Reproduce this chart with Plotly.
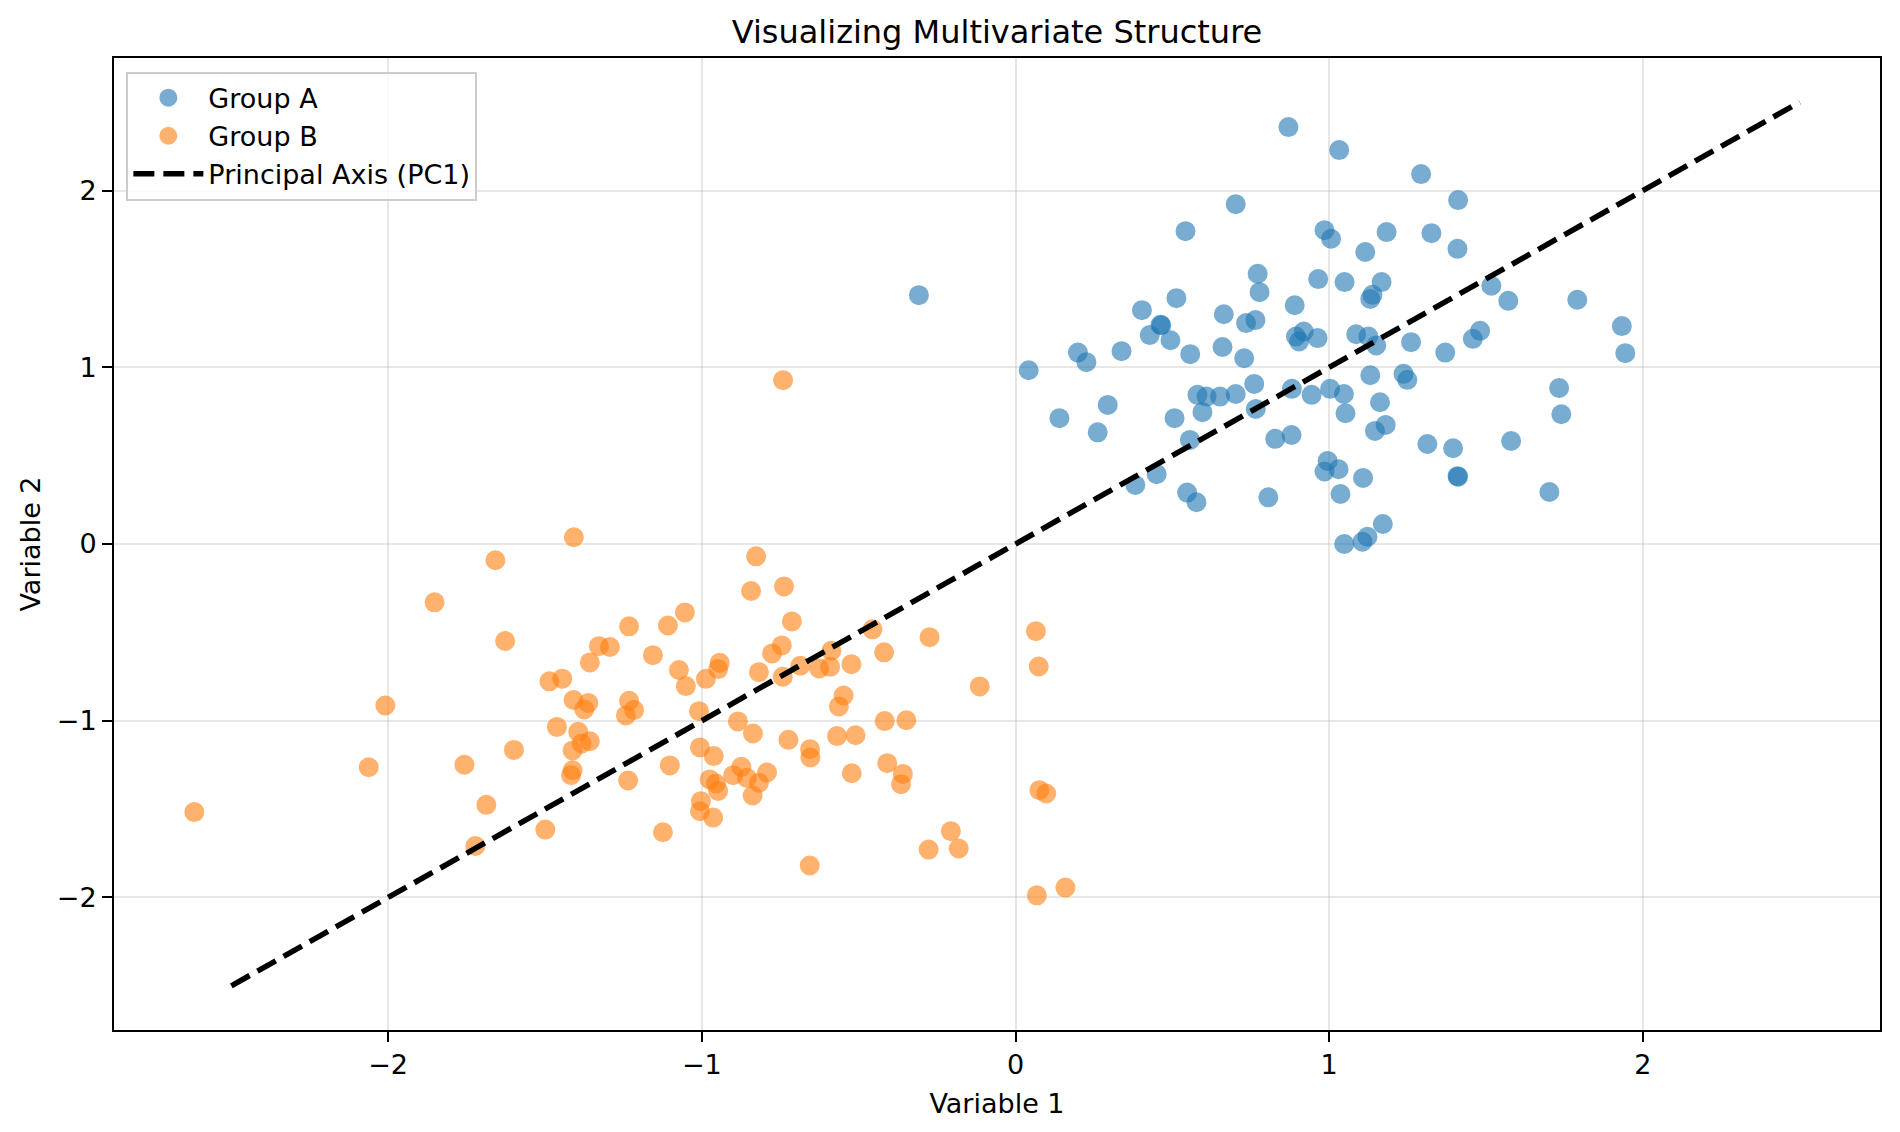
import plotly.graph_objects as go

# Group A (blue cluster)
group_a_x = [
    0.870, 1.032, 1.293, 1.411, 0.702, 0.542, 0.985, 1.006, 1.183, 1.326,
    1.409, 1.115, 0.772, 0.778, 0.965, 1.049, 1.167, 1.138, 1.131, 1.517,
    1.571, 1.791, 0.403, 0.513, 0.465, 0.462, 0.428, 0.494, 0.338, 0.557,
    0.664, 0.735, 0.765, 0.660, 0.729, 0.890, 0.919, 0.894, 0.904, 0.963,
    1.086, 1.125, 1.150, 1.261, 1.370, 1.458, 1.481, 1.933, 1.944, 0.199,
    0.226, 0.042, 0.294, 0.140, 0.262, 0.507, 0.580, 0.609, 0.652, 0.702,
    0.761, 0.596, 0.766, 0.556, 0.881, 0.944, 1.003, 1.047, 1.052, 1.162,
    1.131, 1.237, 1.249, 1.146, 1.180, 0.828, 0.880, 1.313, 1.395, 1.733,
    1.740, 1.580, 1.411, 1.409, 1.702, 0.382, 0.450, 0.547, 0.577, 0.806,
    0.995, 0.985, 1.030, 1.108, 1.036, 1.171, 1.122, 1.106, 1.048, -0.308,
]
group_a_y = [
    2.359, 2.229, 2.093, 1.946, 1.923, 1.770, 1.776, 1.727, 1.765, 1.759,
    1.670, 1.652, 1.529, 1.425, 1.499, 1.482, 1.482, 1.410, 1.387, 1.461,
    1.376, 1.382, 1.323, 1.391, 1.238, 1.240, 1.182, 1.153, 1.091, 1.074,
    1.300, 1.250, 1.267, 1.115, 1.051, 1.351, 1.202, 1.174, 1.146, 1.165,
    1.187, 1.174, 1.123, 1.142, 1.083, 1.161, 1.206, 1.233, 1.080, 1.083,
    1.029, 0.983, 0.787, 0.712, 0.632, 0.712, 0.844, 0.834, 0.834, 0.849,
    0.906, 0.746, 0.764, 0.589, 0.878, 0.844, 0.878, 0.849, 0.740, 0.802,
    0.955, 0.963, 0.929, 0.640, 0.674, 0.595, 0.617, 0.566, 0.542, 0.883,
    0.734, 0.583, 0.381, 0.384, 0.294, 0.334, 0.395, 0.291, 0.236, 0.264,
    0.470, 0.410, 0.423, 0.374, 0.283, 0.113, 0.041, 0.013, 0.000, 1.408,
]

# Group B (orange cluster)
group_b_x = [
    -2.618, -2.062, -2.009, -1.852, -1.687, -1.722, -1.757, -1.658, -1.599, -1.627,
    -1.499, -1.486, -1.445, -1.462, -1.408, -1.409, -1.412, -1.417, -1.412, -1.394,
    -1.383, -1.357, -1.375, -1.362, -1.357, -1.328, -1.293, -1.232, -1.242, -1.232,
    -1.216, -1.235, -1.156, -1.108, -1.102, -1.124, -1.054, -1.073, -1.051, -1.009,
    -1.006, -1.003, -1.006, -0.987, -0.962, -0.975, -0.955, -0.964, -0.948, -0.943,
    -0.948, -0.885, -0.874, -0.900, -0.856, -0.837, -0.838, -0.818, -0.818, -0.827,
    -0.843, -0.792, -0.776, -0.745, -0.742, -0.738, -0.741, -0.724, -0.713, -0.686,
    -0.655, -0.654, -0.656, -0.626, -0.591, -0.587, -0.569, -0.563, -0.548, -0.523,
    -0.522, -0.510, -0.456, -0.419, -0.417, -0.409, -0.365, -0.359, -0.348, -0.274,
    -0.277, -0.206, -0.181, -0.114, 0.065, 0.074, 0.076, 0.098, 0.068, 0.159,
]
group_b_y = [
    -1.517, -1.263, -0.914, -0.330, -1.476, -1.709, -1.249, -0.092, -1.165, -0.549,
    -1.616, -0.777, -0.762, -1.035, 0.038, -0.883, -1.168, -1.308, -1.280, -1.063,
    -1.129, -1.116, -0.936, -0.899, -0.670, -0.578, -0.583, -0.466, -0.970, -0.887,
    -0.940, -1.338, -0.629, -0.461, -1.253, -1.631, -0.387, -0.713, -0.804, -0.946,
    -1.151, -1.455, -1.512, -0.763, -1.200, -1.332, -1.355, -1.548, -1.397, -0.672,
    -0.708, -1.004, -1.261, -1.308, -1.323, -1.072, -1.423, -1.351, -0.725, -0.070,
    -0.266, -1.293, -0.619, -0.574, -0.751, -0.240, 0.927, -1.108, -0.438, -0.689,
    -1.161, -1.208, -1.819, -0.704, -0.695, -0.604, -1.087, -0.919, -0.857, -0.680,
    -1.297, -1.082, -0.483, -0.613, -1.002, -1.240, -1.359, -1.301, -0.997, -0.527,
    -1.729, -1.625, -1.723, -0.806, -0.493, -0.693, -1.393, -1.412, -1.988, -1.944,
]

# Principal axis endpoints
pc1_x = [-2.5, 2.5]
pc1_y = [-2.5, 2.5]

font = "DejaVu Sans"

fig = go.Figure()

fig.add_trace(go.Scatter(
    x=group_a_x, y=group_a_y, mode="markers", name="Group A",
    marker=dict(size=18, color="#1f77b4", opacity=0.6,
                line=dict(color="#1f77b4", width=2))
))
fig.add_trace(go.Scatter(
    x=group_b_x, y=group_b_y, mode="markers", name="Group B",
    marker=dict(size=18, color="#ff7f0e", opacity=0.6,
                line=dict(color="#ff7f0e", width=2))
))
fig.add_trace(go.Scatter(
    x=pc1_x, y=pc1_y, mode="lines", name="Principal Axis (PC1)",
    line=dict(color="black", width=5.5, dash="21px,9px")
))

axis_style = dict(
    showline=True, linecolor="black", linewidth=2, mirror=True,
    ticks="outside", ticklen=10, tickwidth=2, tickcolor="black",
    showgrid=True, gridcolor="rgba(176,176,176,0.3)", gridwidth=1.5,
    zeroline=False, dtick=1, automargin=False,
    tickfont=dict(family=font, size=27, color="black"),
)

fig.update_xaxes(range=[-2.874, 2.756],
                 title=dict(text="Variable 1", font=dict(family=font, size=27, color="black")),
                 **axis_style)
fig.update_yaxes(range=[-2.75, 2.75],
                 title=dict(text="Variable 2", font=dict(family=font, size=27, color="black"),
                            standoff=8),
                 **axis_style)

# page body adds an 8px margin, so the figure is a bit smaller and offset
fig.update_layout(
    width=1884, height=1116,
    margin=dict(l=106, r=12, t=50, b=94),
    plot_bgcolor="white", paper_bgcolor="white",
    font=dict(family=font, size=27, color="black"),
    title=dict(text="Visualizing Multivariate Structure", x=0.5, xref="paper",
               y=1 - 24 / 1116, yref="container", yanchor="middle",
               font=dict(family=font, size=32, color="black")),
    legend=dict(x=0.007, y=0.986, xanchor="left", yanchor="top",
                bgcolor="rgba(255,255,255,0.8)", bordercolor="#cccccc", borderwidth=2,
                itemwidth=70, tracegroupgap=0,
                font=dict(family=font, size=27, color="black")),
    showlegend=True,
)

fig.write_html("out.html")
